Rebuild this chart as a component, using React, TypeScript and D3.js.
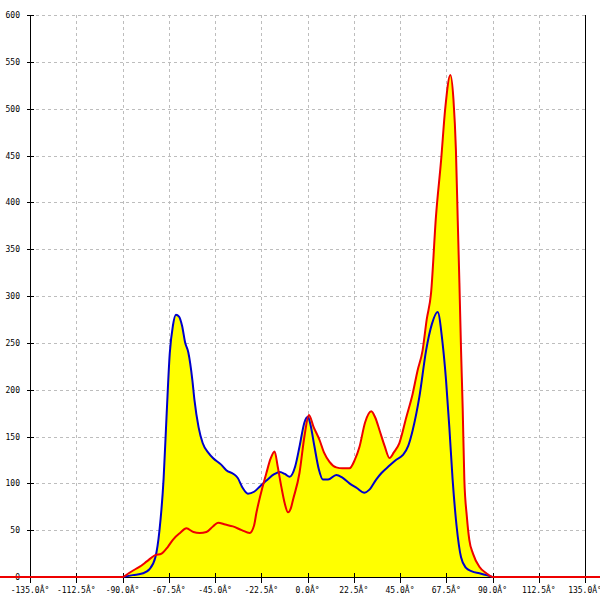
import React, { useEffect, useRef } from "react";
import * as d3 from "d3";

// angle (deg) / count pairs
const redAngles = [
  -150, -90, -87, -84, -81.6, -78, -74.3, -71, -68, -65.4, -62, -58.9, -55.5, -52.4, -49.2, -46, -43.5, -40,
  -36.3, -32, -28.1, -26, -24.9, -22, -20, -18, -16, -14.5, -12.7, -11, -9.5, -8, -7.1, -3.9, -1.5, 0.7, 3,
  5.9, 8, 10.7, 14, 17, 20.4, 23, 25.3, 28, 31, 33, 35, 37.5, 39.9, 42, 44.7, 48, 51.2, 53.5, 56, 58, 60.1,
  62.5, 65, 67, 69.5, 71, 72.2, 73.1, 73.9, 74.7, 75.5, 76.3, 77.5, 78.7, 80.5, 83.6, 87, 90, 150,
];
const redValues = [
  0, 0, 4, 8, 11, 17, 23, 25, 32, 40, 47, 52, 48, 47, 48, 54, 58, 56, 54, 50, 47, 55, 68, 95, 111, 126, 134,
  118, 96, 78, 69, 74, 82, 111, 150, 173, 160, 146, 133, 123, 117, 116, 116, 125, 139, 165, 177, 170, 157,
  140, 127, 133, 143, 170, 196, 220, 242, 275, 303, 385, 445, 500, 536, 510, 456, 380, 314, 242, 180, 104,
  65, 40, 25, 11, 4, 0, 0,
];

const blueAngles = [
  -90, -85, -80, -77, -74, -72, -70, -68.5, -67, -65.5, -64, -62.5, -61, -59.5, -58, -56, -55, -53, -51, -48,
  -46, -42, -39.5, -36, -34, -31.5, -29, -26, -23, -20, -16, -13.5, -11, -8.7, -6, -3.9, -1.5, 0.2, 1.5, 3.4,
  5.5, 7.5, 10, 14, 17, 20.4, 24, 27.7, 30, 33.4, 36, 39.9, 43, 46.3, 49, 51.2, 54.4, 57.7, 60.5, 63.3, 65.7,
  67.4, 69, 70.6, 72.5, 74.7, 77, 80, 83.6, 87, 90,
];
const blueValues = [
  0, 2, 4, 8, 21, 50, 105, 175, 239, 268, 280, 278, 268, 250, 240, 210, 189, 160, 143, 132, 127, 120, 114,
  110, 106, 95, 89, 91, 97, 103, 110, 112, 110, 107, 118, 139, 165, 171, 162, 139, 115, 104, 104, 109, 106,
  100, 95, 90, 93, 104, 111, 119, 125, 130, 140, 157, 192, 242, 270, 283, 250, 210, 160, 104, 55, 21, 10, 6,
  4, 2, 0,
];

const xTicks = [-135, -112.5, -90, -67.5, -45, -22.5, 0, 22.5, 45, 67.5, 90, 112.5, 135];
const yTicks = [0, 50, 100, 150, 200, 250, 300, 350, 400, 450, 500, 550, 600];

const W = 600;
const H = 600;
const margin = { top: 15, right: 15, bottom: 23, left: 30 };

type Pt = [number, number];

export default function App() {
  const ref = useRef<SVGSVGElement>(null);

  useEffect(() => {
    document.body.style.margin = "0";
    if (!ref.current) return;
    const svg = d3.select(ref.current);
    svg.selectAll("*").remove();

    const x = d3.scaleLinear().domain([-135, 135]).range([margin.left, W - margin.right]);
    const y = d3.scaleLinear().domain([0, 600]).range([H - margin.bottom, margin.top]);

    const red: Pt[] = redAngles.map((a, i) => [a, redValues[i]]);
    const blue: Pt[] = blueAngles.map((a, i) => [a, blueValues[i]]);

    svg.append("rect").attr("width", W).attr("height", H).attr("fill", "#fff");

    // grid
    const grid = svg.append("g").attr("stroke", "#bdbdbd").attr("stroke-dasharray", "3,3").attr("stroke-width", 1);
    grid
      .selectAll("line.v")
      .data(xTicks)
      .enter()
      .append("line")
      .attr("x1", (d) => Math.round(x(d)) + 0.5)
      .attr("x2", (d) => Math.round(x(d)) + 0.5)
      .attr("y1", y(600))
      .attr("y2", y(0));
    grid
      .selectAll("line.h")
      .data(yTicks)
      .enter()
      .append("line")
      .attr("x1", x(-135))
      .attr("x2", x(135))
      .attr("y1", (d) => Math.round(y(d)) + 0.5)
      .attr("y2", (d) => Math.round(y(d)) + 0.5);

    // fills
    const area = d3
      .area<Pt>()
      .x((d) => x(d[0]))
      .y0(y(0))
      .y1((d) => y(d[1]))
      .curve(d3.curveMonotoneX);
    svg.append("path").datum(red).attr("d", area).attr("fill", "#ffff00");
    svg.append("path").datum(blue).attr("d", area).attr("fill", "#ffff00");

    // axes
    const axes = svg.append("g").attr("stroke", "#000").attr("stroke-width", 1);
    axes
      .append("line")
      .attr("x1", Math.round(x(-135)) + 0.5)
      .attr("x2", Math.round(x(-135)) + 0.5)
      .attr("y1", y(600))
      .attr("y2", y(0) + 6);
    axes
      .append("line")
      .attr("x1", Math.round(x(135)) + 0.5)
      .attr("x2", Math.round(x(135)) + 0.5)
      .attr("y1", y(600))
      .attr("y2", y(0) + 6);
    axes
      .append("line")
      .attr("x1", x(-135))
      .attr("x2", x(135))
      .attr("y1", Math.round(y(0)) + 0.5)
      .attr("y2", Math.round(y(0)) + 0.5);
    axes
      .selectAll("line.xt")
      .data(xTicks)
      .enter()
      .append("line")
      .attr("x1", (d) => Math.round(x(d)) + 0.5)
      .attr("x2", (d) => Math.round(x(d)) + 0.5)
      .attr("y1", y(0) - 4)
      .attr("y2", y(0) + 6);
    axes
      .selectAll("line.yt")
      .data(yTicks)
      .enter()
      .append("line")
      .attr("x1", x(-135) - 3)
      .attr("x2", x(-135) + 4)
      .attr("y1", (d) => Math.round(y(d)) + 0.5)
      .attr("y2", (d) => Math.round(y(d)) + 0.5);

    // lines
    const line = d3
      .line<Pt>()
      .x((d) => x(d[0]))
      .y((d) => y(d[1]))
      .curve(d3.curveMonotoneX);
    svg
      .append("path")
      .datum(blue)
      .attr("d", line)
      .attr("fill", "none")
      .attr("stroke", "#0000cc")
      .attr("stroke-width", 2);

    // labels
    const font = "'DejaVu Sans Mono', monospace";
    svg
      .append("g")
      .selectAll("text")
      .data(xTicks)
      .enter()
      .append("text")
      .attr("x", (d) => x(d))
      .attr("y", y(0) + 16)
      .attr("text-anchor", "middle")
      .attr("font-family", font)
      .attr("font-size", 8)
      .attr("fill", "#000")
      .text((d) => `${d.toFixed(1)}Â°`);
    svg
      .append("g")
      .selectAll("text")
      .data(yTicks)
      .enter()
      .append("text")
      .attr("x", x(-135) - 10)
      .attr("y", (d) => y(d) + 3)
      .attr("text-anchor", "end")
      .attr("font-family", font)
      .attr("font-size", 8)
      .attr("fill", "#000")
      .text((d) => String(d));

    svg
      .append("path")
      .datum(red)
      .attr("d", line)
      .attr("fill", "none")
      .attr("stroke", "#ee0000")
      .attr("stroke-width", 2);
  }, []);

  return <svg ref={ref} width={W} height={H} style={{ display: "block" }} />;
}
